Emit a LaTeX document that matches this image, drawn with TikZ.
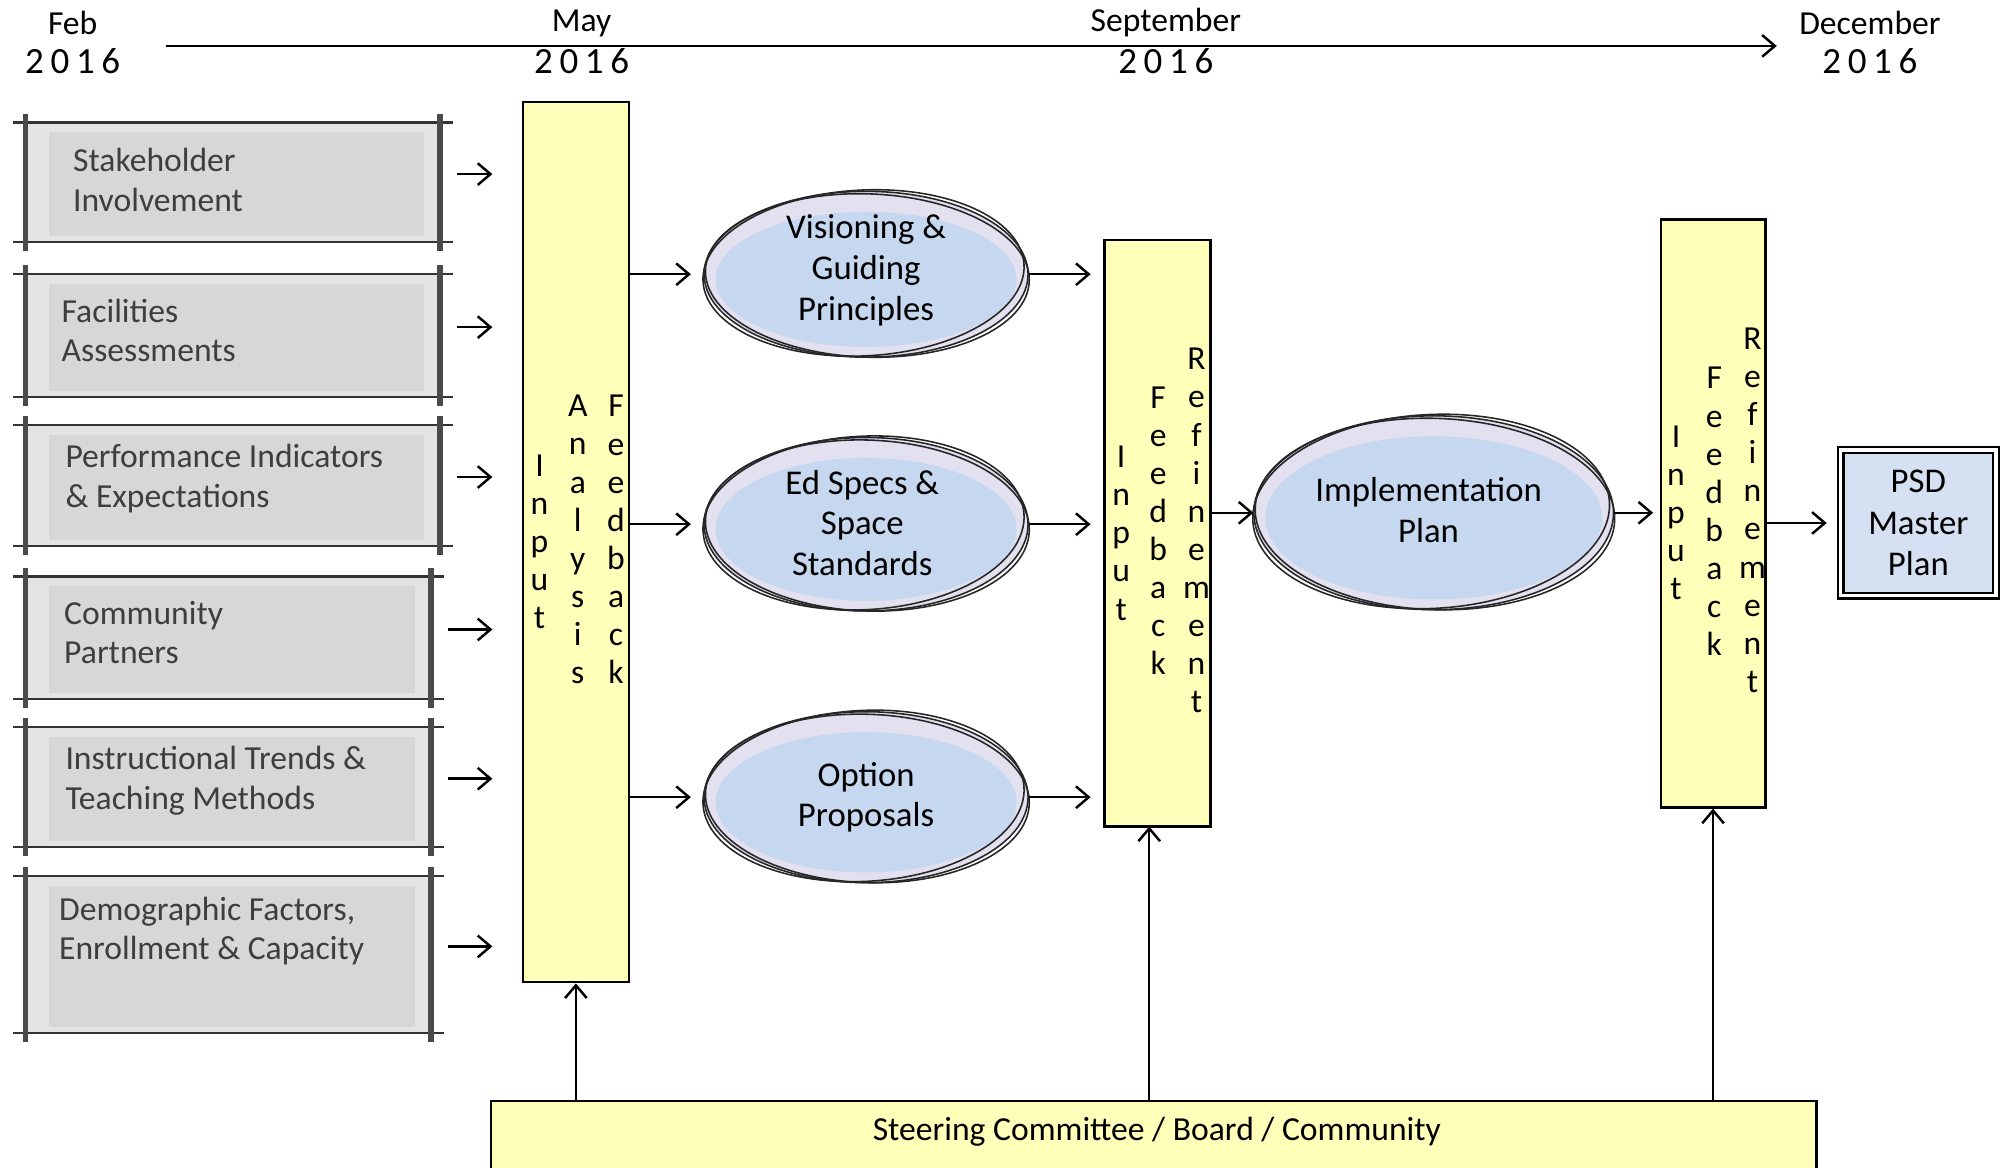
\documentclass[tikz,border=0pt]{standalone}
\usepackage{fontspec}
\setmainfont{Carlito}
\newfontfamily\yearfont[LetterSpace=18]{Carlito}
\usetikzlibrary{arrows.meta,shapes.geometric}
\tikzset{>={Straight Barb[length=2mm,width=3.4mm]}}
\definecolor{padyellow}{HTML}{FFFFB9}
\definecolor{bubbleblue}{HTML}{C6D8EF}
\definecolor{bubblelav}{HTML}{E3E0EF}
\definecolor{boxgray}{HTML}{E4E4E4}
\definecolor{boxinner}{HTML}{D7D7D7}
\definecolor{postgray}{HTML}{4A4A4A}
\definecolor{boxtextcol}{HTML}{3E3E3E}
\definecolor{psdblue}{HTML}{D5E1F2}
\tikzset{
  flow/.style={->,line width=1.1pt},
  month/.style={inner sep=0pt,font=\fontsize{15}{17}\selectfont},
  year/.style={inner sep=0pt,font=\fontsize{16.5}{18}\yearfont},
  scroll/.style={rectangle,fill=boxgray,inner sep=0pt},
  rule/.style={draw=black!80,line width=1pt},
  post/.style={draw=postgray,line width=2.4pt},
  boxtext/.style={inner sep=0pt,align=left,text=boxtextcol,font=\fontsize{15}{17.6}\selectfont},
  pad/.style={rectangle,draw,line width=1.1pt,fill=padyellow,inner sep=0pt},
  padtext/.style={inner sep=0pt,align=center,font=\fontsize{15}{17}\selectfont},
  bubble/.style 2 args={ellipse,minimum width=#1,minimum height=#2,inner sep=0pt,fill=bubblelav,
    path picture={\fill[bubbleblue] ([yshift=-0.8mm]path picture bounding box.center)
      ellipse [x radius=#1/2-1.8mm, y radius=#2/2-2.4mm];}},
  bubbletext/.style={inner sep=0pt,align=center,font=\fontsize{15.5}{18.1}\selectfont},
  sketch/.style={draw=black!85,line width=0.7pt},
  psd/.style={rectangle,draw,line width=1pt,double=white,double distance=1.6pt,fill=psdblue,
    inner sep=0pt,align=center,font=\fontsize{15.5}{18.4}\selectfont},
}
\newcommand{\sketchring}[3]{%
  \draw[sketch] (#1.center) ellipse [x radius=#2, y radius=#3];
  \draw[sketch] ([shift={(-2,-1)}]#1.center) ellipse [x radius=#2-1, y radius=#3, rotate=3];
  \draw[sketch] ([shift={(1,1)}]#1.center) ellipse [x radius=#2, y radius=#3-1, rotate=-2];
}

\begin{document}
\begin{tikzpicture}[x=0.2mm,y=-0.2mm]
  \useasboundingbox (0,0) rectangle (1568,915);
  \clip (0,0) rectangle (1568,915);
  % timeline
  \coordinate (tl-a) at (130,36);
  \coordinate (tl-b) at (1393,36);
  \draw[flow] (tl-a) -- (tl-b);
  \foreach \nm/\x/\mon in {feb/57/Feb,may/456/May,sep/914/September,dec/1466/December}{
    \node[month] (\nm-m) at (\x,18) {\mon};
    \node[year] (\nm-y) at (\x,48) {2016};
  }
  % yellow columns
  \node[pad,minimum width=16.6mm,minimum height=138mm] (b1) at (451.5,425) {};
  \node[pad,minimum width=16.6mm,minimum height=92mm] (b2) at (907.5,418) {};
  \node[pad,minimum width=16.4mm,minimum height=92.2mm] (b3) at (1343,402.5) {};
  \node[padtext] (b1-i) at (423,425) {I\\n\\p\\u\\t};
  \node[padtext] (b1-a) at (453,423) {A\\n\\a\\l\\y\\s\\i\\s};
  \node[padtext] (b1-f) at (483,423) {F\\e\\e\\d\\b\\a\\c\\k};
  \node[padtext] (b2-i) at (879,418) {I\\n\\p\\u\\t};
  \node[padtext] (b2-f) at (908,416) {F\\e\\e\\d\\b\\a\\c\\k};
  \node[padtext] (b2-r) at (938,416) {R\\e\\f\\i\\n\\e\\m\\e\\n\\t};
  \node[padtext] (b3-i) at (1314,402) {I\\n\\p\\u\\t};
  \node[padtext] (b3-f) at (1344,401) {F\\e\\e\\d\\b\\a\\c\\k};
  \node[padtext] (b3-r) at (1374,400) {R\\e\\f\\i\\n\\e\\m\\e\\n\\t};
  % input boxes
  \foreach \i/\yt/\yb/\xr/\tx/\ty/\txt in {
      1/96/190/345/57/141/{Stakeholder\\Involvement},
      2/215/311/345/48/259/{Facilities\\Assessments},
      3/333/428/345/51/375/{Performance Indicators\\\& Expectations},
      4/452/548/338/50/496/{Community\\Partners},
      5/570/664/338/51/612/{Instructional Trends \&\\Teaching Methods},
      6/687/810/338/46/730/{Demographic Factors,\\Enrollment \& Capacity}}{
    \node[scroll,minimum width={(\xr-20)*0.2mm},minimum height={(\yb-\yt)*0.2mm}] (s\i) at ({(20+\xr)/2},{(\yt+\yb)/2}) {};
    \fill[boxinner] ([shift={(19,8)}]s\i.north west) rectangle ([shift={(-13,-5)}]s\i.south east);
    \draw[rule] (10,\yt) -- (\xr+10,\yt);
    \draw[rule] (10,\yb) -- (\xr+10,\yb);
    \draw[post] (20,\yt-7) -- (20,\yb+7);
    \draw[post] (\xr,\yt-7) -- (\xr,\yb+7);
    \node[boxtext,anchor=west] (s\i-t) at (\tx,\ty) {\txt};
    \draw[flow,shorten <=2.6mm,shorten >=4.6mm] ([yshift=1.3mm]s\i.east) -- ([yshift=1.3mm]s\i.east -| b1.west);
  }
  % bubbles
  \node[bubble={50.8mm}{26mm}] (vis) at (679,215) {};
  \node[bubble={50.8mm}{27.2mm}] (eds) at (679,411) {};
  \node[bubble={50.8mm}{26.8mm}] (opt) at (679,625) {};
  \node[bubble={56.4mm}{30.4mm}] (impl) at (1124,402) {};
  \sketchring{vis}{127}{65}
  \sketchring{eds}{127}{68}
  \sketchring{opt}{127}{67}
  \sketchring{impl}{141}{76}
  \node[bubbletext] (vis-t) at (679,212) {Visioning \&\\Guiding\\Principles};
  \node[bubbletext] (eds-t) at (676,410) {Ed Specs \&\\Space\\Standards};
  \node[bubbletext] (opt-t) at (679,625) {Option\\Proposals};
  \node[bubbletext] (impl-t) at (1120,400) {Implementation\\Plan};
  % result
  \node[psd,minimum width=24.4mm,minimum height=22.8mm] (psd) at (1504,410) {PSD\\Master\\Plan};
  % steering group
  \node[pad,minimum width=207.8mm,minimum height=14mm,anchor=north] (steer) at (904.5,862) {};
  \node[bubbletext,font=\fontsize{15}{18}\selectfont] (steer-t) at (907,887) {Steering Committee / Board / Community};
  \coordinate (b2-foot) at (901,648);
  % flows
  \draw[flow,shorten >=2mm] (vis.west -| b1.east) -- (vis.west);
  \draw[flow,shorten >=2mm] (eds.west -| b1.east) -- (eds.west);
  \draw[flow,shorten >=2mm] (opt.west -| b1.east) -- (opt.west);
  \draw[flow,shorten >=2mm] (vis.east) -- (vis.east -| b2.west);
  \draw[flow,shorten >=2mm] (eds.east) -- (eds.east -| b2.west);
  \draw[flow,shorten >=2mm] (opt.east) -- (opt.east -| b2.west);
  \draw[flow] (b2.east |- impl.west) -- (impl.west);
  \draw[flow,shorten >=1mm] (impl.east) -- (impl.east -| b3.west);
  \draw[flow,shorten >=2mm] (b3.east |- psd.west) -- (psd.west);
  \draw[flow] (steer.north -| b1.south) -- (b1.south);
  \draw[flow] (steer.north -| b2-foot) -- (b2-foot);
  \draw[flow] (steer.north -| b3.south) -- (b3.south);
\end{tikzpicture}
\end{document}
